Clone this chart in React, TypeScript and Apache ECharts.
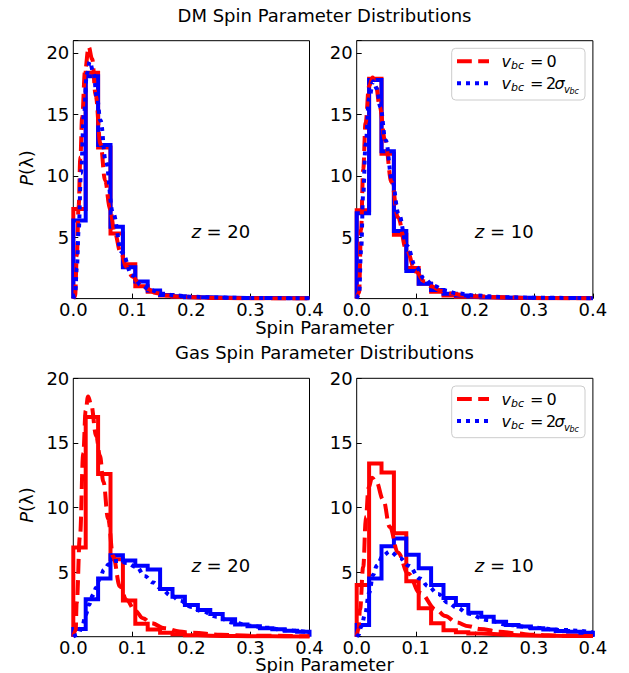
import React, { useEffect, useRef } from "react";
import * as echarts from "echarts";

// Histogram bin edges (19 bins between 0 and 0.4)
const binEdges = [0, 0.021, 0.042, 0.063, 0.084, 0.105, 0.126, 0.147, 0.168, 0.189, 0.211, 0.232, 0.253, 0.274, 0.295, 0.316, 0.337, 0.358, 0.379, 0.4];

// DM spin parameter histograms
const dmZ20Red = [7.3, 18.4, 12.3, 5.3, 2.8, 1.0, 0.55, 0.25, 0.15, 0.1, 0.07, 0.05, 0.04, 0.03, 0.03, 0.02, 0.02, 0.02, 0.02];
const dmZ20Blue = [6.35, 18.1, 12.5, 5.85, 2.55, 1.4, 0.65, 0.3, 0.2, 0.12, 0.1, 0.08, 0.06, 0.05, 0.04, 0.04, 0.03, 0.03, 0.03];
const dmZ10Red = [7.2, 17.9, 11.8, 5.2, 2.5, 1.2, 0.55, 0.25, 0.15, 0.1, 0.08, 0.06, 0.05, 0.04, 0.03, 0.03, 0.03, 0.02, 0.02];
const dmZ10Blue = [6.95, 17.8, 12.0, 5.5, 2.25, 1.2, 0.7, 0.4, 0.25, 0.18, 0.12, 0.09, 0.07, 0.06, 0.05, 0.05, 0.04, 0.04, 0.03];

// Gas spin parameter histograms
const gasZ20Red = [6.9, 17.0, 12.6, 6.0, 2.8, 1.0, 0.55, 0.3, 0.18, 0.12, 0.08, 0.06, 0.05, 0.04, 0.03, 0.03, 0.02, 0.02, 0.02];
const gasZ20Blue = [0.6, 2.9, 4.5, 6.3, 5.9, 5.5, 5.2, 3.7, 3.1, 2.45, 2.07, 1.75, 1.35, 0.95, 0.8, 0.65, 0.58, 0.47, 0.38];
const gasZ10Red = [4.0, 13.4, 12.7, 8.0, 4.3, 2.2, 1.05, 0.5, 0.35, 0.25, 0.2, 0.15, 0.12, 0.1, 0.08, 0.07, 0.06, 0.05, 0.05];
const gasZ10Blue = [0.9, 4.5, 7.0, 7.6, 6.35, 5.3, 4.0, 3.0, 2.45, 1.85, 1.55, 1.15, 0.9, 0.78, 0.65, 0.55, 0.45, 0.38, 0.3];

// Fitted curves [lambda, P]
const dmZ20RedFit = [[0, 0], [0.003, 0.2], [0.006, 3.5], [0.009, 7.5], [0.012, 11.5], [0.015, 14.8], [0.02, 18.6], [0.026, 20.5], [0.032, 19.5], [0.038, 16.5], [0.046, 12.6], [0.054, 9.6], [0.062, 7.3], [0.07, 5.4], [0.08, 3.8], [0.09, 2.6], [0.1, 1.8], [0.112, 1.2], [0.125, 0.8], [0.14, 0.45], [0.16, 0.25], [0.18, 0.15], [0.2, 0.1], [0.25, 0.05], [0.3, 0.02], [0.4, 0.01]];
const dmZ20BlueFit = [[0, 0], [0.003, 0.3], [0.006, 2.5], [0.009, 5.5], [0.013, 10.2], [0.018, 15.0], [0.023, 18.3], [0.028, 19.3], [0.034, 18.4], [0.04, 16.4], [0.046, 14.5], [0.055, 11.2], [0.067, 7.0], [0.082, 3.8], [0.1, 1.9], [0.115, 1.1], [0.13, 0.7], [0.15, 0.4], [0.175, 0.25], [0.2, 0.15], [0.25, 0.08], [0.3, 0.05], [0.4, 0.02]];
const dmZ10RedFit = [[0, 0], [0.004, 0.5], [0.0073, 5.6], [0.011, 10.5], [0.015, 14.3], [0.021, 17.3], [0.027, 18.0], [0.033, 17.2], [0.039, 15.6], [0.048, 12.9], [0.059, 9.5], [0.07, 6.6], [0.084, 4.0], [0.1, 2.2], [0.115, 1.4], [0.126, 1.0], [0.145, 0.6], [0.16, 0.42], [0.18, 0.28], [0.2, 0.2], [0.25, 0.1], [0.3, 0.05], [0.4, 0.02]];
const dmZ10BlueFit = [[0, 0], [0.004, 0.3], [0.0075, 4.0], [0.011, 8.5], [0.015, 12.5], [0.021, 16.3], [0.028, 17.7], [0.034, 17.1], [0.04, 15.6], [0.049, 12.9], [0.06, 9.6], [0.071, 6.9], [0.085, 4.3], [0.1, 2.6], [0.115, 1.6], [0.13, 1.05], [0.15, 0.65], [0.17, 0.42], [0.2, 0.25], [0.25, 0.12], [0.3, 0.07], [0.4, 0.03]];
const gasZ20RedFit = [[0, 0], [0.004, 0.5], [0.0057, 2.6], [0.0113, 7.8], [0.0169, 14.2], [0.021, 17.5], [0.025, 18.6], [0.03, 18.0], [0.039, 15.5], [0.045, 14.0], [0.051, 12.0], [0.059, 9.1], [0.0675, 6.2], [0.079, 3.9], [0.09, 2.85], [0.105, 2.0], [0.118, 1.43], [0.132, 1.04], [0.155, 0.65], [0.18, 0.4], [0.2, 0.3], [0.25, 0.15], [0.3, 0.08], [0.4, 0.03]];
const gasZ20BlueFit = [[0, 0], [0.008, 0.15], [0.015, 0.8], [0.021, 1.7], [0.027, 2.5], [0.033, 3.2], [0.039, 3.8], [0.045, 4.5], [0.052, 5.2], [0.06, 5.6], [0.07, 5.85], [0.08, 5.85], [0.09, 5.7], [0.107, 5.4], [0.121, 4.7], [0.135, 4.2], [0.149, 3.7], [0.165, 3.2], [0.18, 2.8], [0.2, 2.3], [0.219, 1.94], [0.242, 1.55], [0.27, 1.1], [0.3, 0.85], [0.326, 0.7], [0.36, 0.5], [0.4, 0.35]];
const gasZ10RedFit = [[0, 0], [0.003, 0.6], [0.0056, 2.1], [0.011, 5.4], [0.0157, 9.3], [0.02, 11.5], [0.026, 12.3], [0.033, 12.0], [0.045, 10.6], [0.056, 8.5], [0.07, 6.5], [0.087, 4.9], [0.107, 3.4], [0.135, 2.07], [0.15, 1.6], [0.169, 1.1], [0.19, 0.8], [0.208, 0.6], [0.242, 0.39], [0.27, 0.25], [0.3, 0.15], [0.35, 0.08], [0.4, 0.05]];
const gasZ10BlueFit = [[0, 0], [0.003, 0.13], [0.008, 0.8], [0.014, 1.7], [0.021, 3.4], [0.028, 4.8], [0.034, 5.5], [0.045, 6.3], [0.056, 6.6], [0.073, 6.1], [0.088, 5.5], [0.107, 4.5], [0.121, 3.9], [0.138, 3.3], [0.154, 2.65], [0.17, 2.25], [0.188, 1.8], [0.22, 1.3], [0.256, 0.91], [0.298, 0.7], [0.348, 0.52], [0.4, 0.35]];

// Panel texts
const panelRedshifts = ["20", "10", "20", "10"];
const annotationPoint = [0.2, 5.5];
const sectionTitles = ["DM Spin Parameter Distributions", "Gas Spin Parameter Distributions"];
const xAxisTitle = "Spin Parameter";
const yMaxes = [21, 21, 20, 20];

const FONT = "DejaVu Sans";
const RED = "#ff0000";
const BLUE = "#0000ff";

function stepPoints(vals: number[]) {
  const pts: number[][] = [[binEdges[0], 0]];
  vals.forEach((v, i) => {
    pts.push([binEdges[i], v]);
    pts.push([binEdges[i + 1], v]);
  });
  pts.push([binEdges[vals.length], 0]);
  return pts;
}

const panels = [
  { red: dmZ20Red, blue: dmZ20Blue, redFit: dmZ20RedFit, blueFit: dmZ20BlueFit },
  { red: dmZ10Red, blue: dmZ10Blue, redFit: dmZ10RedFit, blueFit: dmZ10BlueFit },
  { red: gasZ20Red, blue: gasZ20Blue, redFit: gasZ20RedFit, blueFit: gasZ20BlueFit },
  { red: gasZ10Red, blue: gasZ10Blue, redFit: gasZ10RedFit, blueFit: gasZ10BlueFit },
];

const gridBoxes = [
  { left: 73.3, top: 40.7, width: 236.2, height: 257.9 },
  { left: 356.7, top: 40.7, width: 236.2, height: 257.9 },
  { left: 73.3, top: 378.3, width: 236.2, height: 258.4 },
  { left: 356.7, top: 378.3, width: 236.2, height: 258.4 },
];

function legendElements(top: number) {
  const r1 = top + 13;
  const r2 = top + 35;
  const t = (text: string, x: number, y: number, size: number, italic: boolean) => ({
    type: "text",
    x,
    y,
    z: 101,
    style: {
      text,
      fontFamily: FONT,
      fontSize: size,
      fontStyle: italic ? "italic" : "normal",
      fill: "#000",
      align: "left",
      verticalAlign: "middle",
    },
  });
  return [
    {
      type: "rect",
      z: 100,
      shape: { x: 451.7, y: top, width: 133.3, height: 51.7, r: 4 },
      style: { fill: "rgba(255,255,255,0.8)", stroke: "#cccccc", lineWidth: 1 },
    },
    {
      type: "line",
      z: 101,
      shape: { x1: 457, y1: r1, x2: 489, y2: r1 },
      style: { stroke: RED, lineWidth: 4, lineDash: [14.8, 6.4], lineCap: "butt" },
    },
    {
      type: "line",
      z: 101,
      shape: { x1: 457, y1: r2, x2: 489, y2: r2 },
      style: { stroke: BLUE, lineWidth: 4, lineDash: [4, 5], lineCap: "butt" },
    },
    t("v", 501.5, r1, 16, true),
    t("bc", 511, r1 + 4, 11, true),
    t("=", 530, r1, 16, false),
    t("0", 546.5, r1, 16, false),
    t("v", 501.5, r2, 16, true),
    t("bc", 511, r2 + 4, 11, true),
    t("=", 530, r2, 16, false),
    t("2", 546, r2, 16, false),
    t("σ", 554.5, r2, 16, true),
    t("v", 564, r2 + 6, 10, true),
    t("bc", 569.5, r2 + 8, 8, true),
  ];
}

function textEl(text: string, x: number, y: number) {
  return {
    type: "text",
    x,
    y,
    style: {
      text,
      fontFamily: FONT,
      fontSize: 18,
      fill: "#000",
      align: "center",
      verticalAlign: "middle",
    },
  };
}

function yLabelEl(x: number, y: number) {
  return {
    type: "text",
    x,
    y,
    rotation: Math.PI / 2,
    style: {
      text: "{i|P}(λ)",
      fontFamily: FONT,
      fontSize: 18,
      fill: "#000",
      align: "center",
      verticalAlign: "middle",
      rich: { i: { fontStyle: "italic", fontFamily: FONT, fontSize: 18, color: "#000" } },
    },
  };
}

function buildOption() {
  const grid = gridBoxes.map((g) => ({
    ...g,
    show: true,
    borderColor: "#000",
    borderWidth: 1,
    backgroundColor: "transparent",
  }));
  const xAxis = gridBoxes.map((_, i) => ({
    type: "value",
    gridIndex: i,
    min: 0,
    max: 0.4,
    interval: 0.1,
    axisLine: { show: false },
    axisTick: { show: true, inside: true, length: 5, lineStyle: { color: "#000", width: 1 } },
    splitLine: { show: false },
    axisLabel: {
      margin: 2,
      fontFamily: FONT,
      fontSize: 18,
      lineHeight: 18,
      color: "#000",
      formatter: (v: number) => v.toFixed(1),
    },
  }));
  const yAxis = gridBoxes.map((_, i) => ({
    type: "value",
    gridIndex: i,
    min: 0,
    max: yMaxes[i],
    interval: 5,
    axisLine: { show: false },
    axisTick: { show: true, inside: true, length: 5, lineStyle: { color: "#000", width: 1 } },
    splitLine: { show: false },
    axisLabel: {
      margin: 4,
      fontFamily: FONT,
      fontSize: 18,
      color: "#000",
      formatter: (v: number) => (v > 0 && v % 5 === 0 ? String(v) : ""),
    },
  }));
  const series: any[] = [];
  panels.forEach((p, i) => {
    series.push({
      type: "line",
      xAxisIndex: i,
      yAxisIndex: i,
      data: stepPoints(p.red),
      symbol: "none",
      z: 2,
      lineStyle: { color: RED, width: 4, join: "miter" },
    });
    series.push({
      type: "line",
      xAxisIndex: i,
      yAxisIndex: i,
      data: stepPoints(p.blue),
      symbol: "none",
      z: 3,
      lineStyle: { color: BLUE, width: 4, join: "miter" },
    });
    series.push({
      type: "line",
      xAxisIndex: i,
      yAxisIndex: i,
      data: p.redFit,
      symbol: "none",
      smooth: 0.4,
      smoothMonotone: "x",
      z: 4,
      lineStyle: { color: RED, width: 4, type: [14.8, 6.4], cap: "butt" },
    });
    series.push({
      type: "line",
      xAxisIndex: i,
      yAxisIndex: i,
      data: p.blueFit,
      symbol: "none",
      smooth: 0.4,
      smoothMonotone: "x",
      z: 5,
      lineStyle: { color: BLUE, width: 4, type: [4, 5], cap: "butt" },
    });
    series.push({
      type: "scatter",
      xAxisIndex: i,
      yAxisIndex: i,
      data: [annotationPoint],
      symbolSize: 0,
      itemStyle: { color: "#000", opacity: 1 },
      silent: true,
      z: 6,
      label: {
        show: true,
        position: "right",
        distance: 0,
        fontFamily: FONT,
        fontSize: 18,
        color: "#000",
        opacity: 1,
        textBorderWidth: 0,
        formatter: "{i|z} {n|= " + panelRedshifts[i] + "}",
        rich: {
          i: { fontStyle: "italic", fontFamily: FONT, fontSize: 18, color: "#000" },
          n: { fontFamily: FONT, fontSize: 18, color: "#000" },
        },
      },
    });
  });
  const graphic = [
    textEl(sectionTitles[0], 324.5, 15),
    textEl(xAxisTitle, 324.5, 327),
    textEl(sectionTitles[1], 324.5, 352.5),
    textEl(xAxisTitle, 324.5, 664),
    yLabelEl(26, 168),
    yLabelEl(26, 505),
    ...legendElements(48.3),
    ...legendElements(386),
  ];
  return {
    animation: false,
    backgroundColor: "#fff",
    grid,
    xAxis,
    yAxis,
    series,
    graphic,
  };
}

export default function App() {
  const ref = useRef<HTMLDivElement>(null);
  useEffect(() => {
    if (!ref.current) return;
    const chart = echarts.init(ref.current, undefined, { renderer: "svg" });
    chart.setOption(buildOption() as any);
    return () => chart.dispose();
  }, []);
  return (
    <div
      ref={ref}
      style={{ position: "absolute", left: 0, top: 0, width: 629, height: 673 }}
    />
  );
}
